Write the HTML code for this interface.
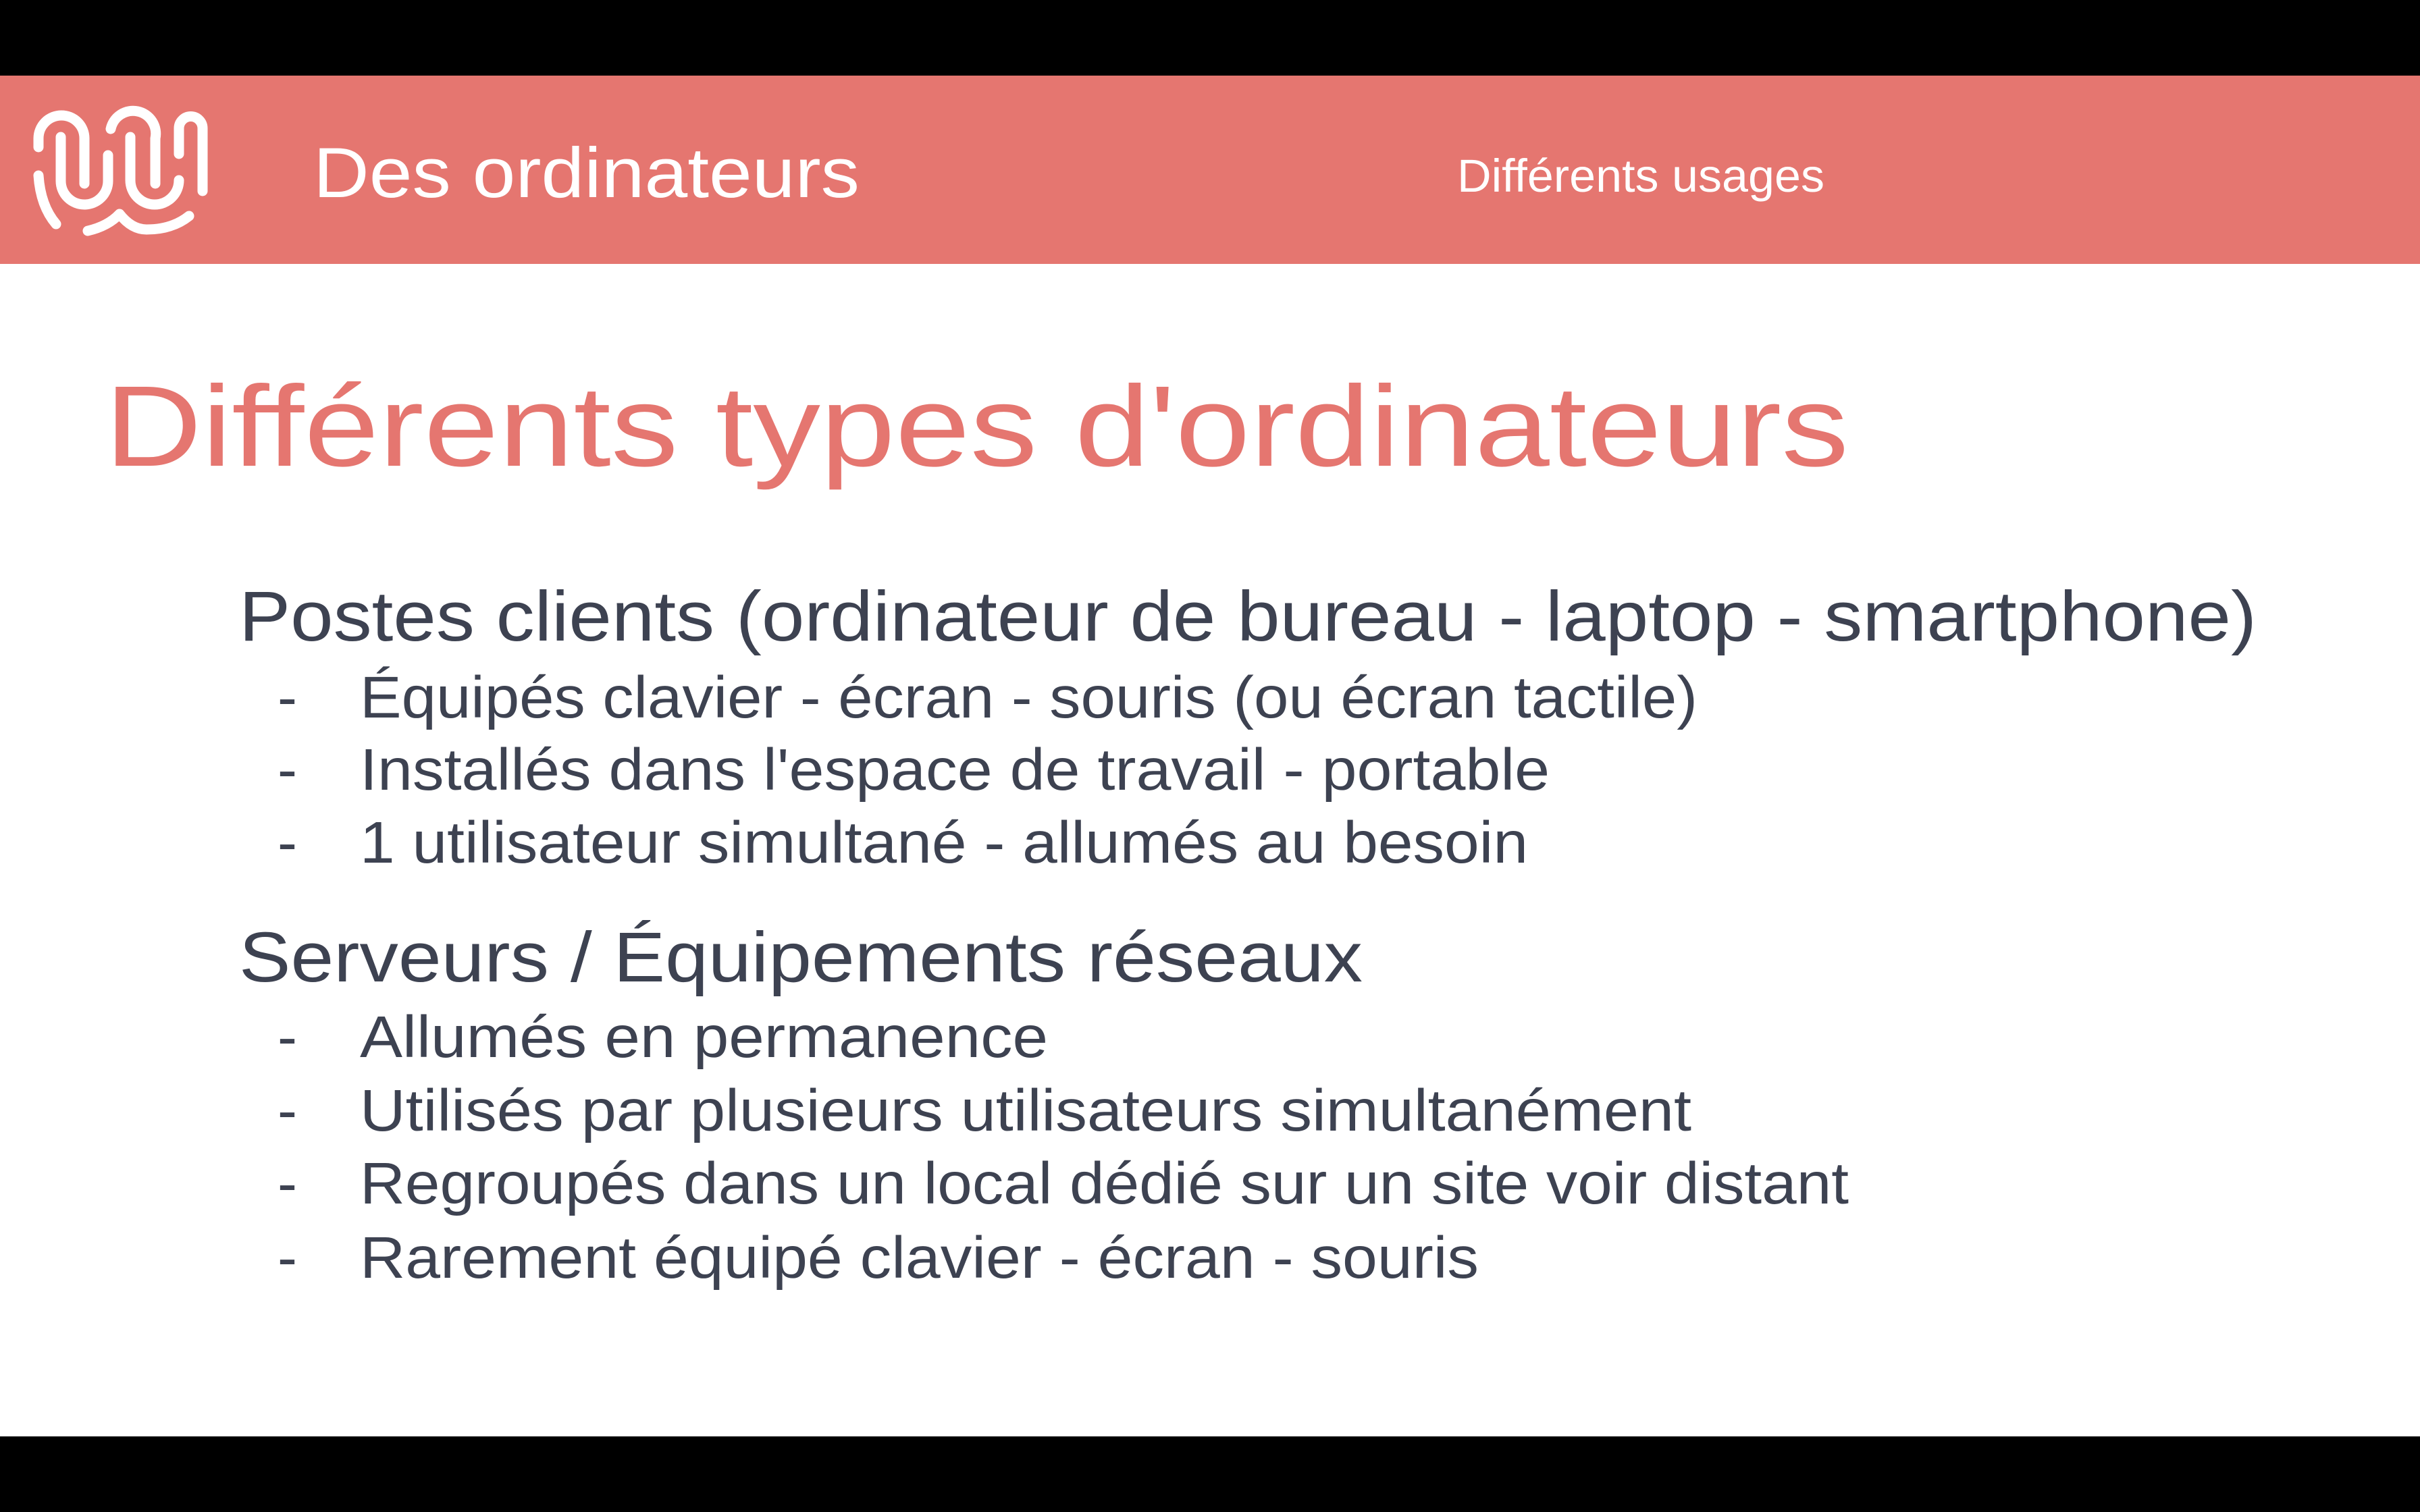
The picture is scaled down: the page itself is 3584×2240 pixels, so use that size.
<!DOCTYPE html>
<html><head><meta charset="utf-8"><style>
html,body{margin:0;padding:0;background:#000;}
svg{display:block;}
text{font-family:"Liberation Sans",sans-serif;}
</style></head><body>
<svg width="3584" height="2240" viewBox="0 0 3584 2240">
<rect x="0" y="0" width="3584" height="2240" fill="#000"/>
<rect x="0" y="112" width="3584" height="2016" fill="#fff"/>
<rect x="0" y="112" width="3584" height="279" fill="#e57670"/>
<g fill="none" stroke="#fff" stroke-width="15" stroke-linecap="round" stroke-linejoin="round">
<path d="M57 218 L57 205 A34 34 0 0 1 125 205 L125 272"/>
<path d="M90 203 L90 268 A35 35 0 0 0 160 268 L160 230"/>
<path d="M164 191 A33 33 0 0 1 230 205 L230 272"/>
<path d="M193 203 L193 267 A36 36 0 0 0 265 267 L265 268"/>
<path d="M265 228 L265 190 A17.5 17.5 0 0 1 300 190 L300 283"/>
<path d="M57 260 Q60 305 83 332"/>
<path d="M130 342 Q160 335 177 317 Q195 340 217 340 Q255 340 280 320"/>
</g>
<text x="464" y="292" font-size="105" fill="#fff" textLength="809" lengthAdjust="spacingAndGlyphs">Des ordinateurs</text>
<text x="2158" y="284" font-size="69" fill="#fff" textLength="544" lengthAdjust="spacingAndGlyphs">Différents usages</text>
<text x="155" y="690" font-size="170" fill="#e57670" textLength="2583" lengthAdjust="spacingAndGlyphs">Différents types d'ordinateurs</text>
<g fill="#3d4251">
<text x="354" y="949" font-size="105" textLength="2988" lengthAdjust="spacingAndGlyphs">Postes clients (ordinateur de bureau - laptop - smartphone)</text>
<text x="411" y="1063" font-size="87">-</text>
<text x="533" y="1063" font-size="87" textLength="1981" lengthAdjust="spacingAndGlyphs">Équipés clavier - écran - souris (ou écran tactile)</text>
<text x="411" y="1170" font-size="87">-</text>
<text x="533" y="1170" font-size="87" textLength="1762" lengthAdjust="spacingAndGlyphs">Installés dans l'espace de travail - portable</text>
<text x="411" y="1278" font-size="87">-</text>
<text x="533" y="1278" font-size="87" textLength="1730" lengthAdjust="spacingAndGlyphs">1 utilisateur simultané - allumés au besoin</text>
<text x="354" y="1454" font-size="105" textLength="1664" lengthAdjust="spacingAndGlyphs">Serveurs / Équipements réseaux</text>
<text x="411" y="1566" font-size="87">-</text>
<text x="533" y="1566" font-size="87" textLength="1019" lengthAdjust="spacingAndGlyphs">Allumés en permanence</text>
<text x="411" y="1675" font-size="87">-</text>
<text x="533" y="1675" font-size="87" textLength="1972" lengthAdjust="spacingAndGlyphs">Utilisés par plusieurs utilisateurs simultanément</text>
<text x="411" y="1783" font-size="87">-</text>
<text x="533" y="1783" font-size="87" textLength="2205" lengthAdjust="spacingAndGlyphs">Regroupés dans un local dédié sur un site voir distant</text>
<text x="411" y="1893" font-size="87">-</text>
<text x="533" y="1893" font-size="87" textLength="1657" lengthAdjust="spacingAndGlyphs">Rarement équipé clavier - écran - souris</text>
</g>
</svg>
</body></html>
